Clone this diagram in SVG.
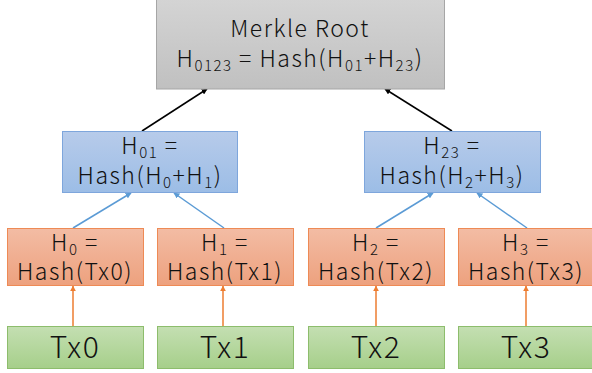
<svg xmlns="http://www.w3.org/2000/svg" width="592" height="373" viewBox="0 0 592 373">
  <defs>
    <linearGradient id="gGray" x1="0" y1="0" x2="0" y2="1">
      <stop offset="0" stop-color="#d4d4d4"/>
      <stop offset="1" stop-color="#c0c0c0"/>
    </linearGradient>
    <linearGradient id="gBlue" x1="0" y1="0" x2="0" y2="1">
      <stop offset="0" stop-color="#b7cbea"/>
      <stop offset="1" stop-color="#9cbde6"/>
    </linearGradient>
    <linearGradient id="gOrange" x1="0" y1="0" x2="0" y2="1">
      <stop offset="0" stop-color="#f3bca4"/>
      <stop offset="1" stop-color="#eda17e"/>
    </linearGradient>
    <linearGradient id="gGreen" x1="0" y1="0" x2="0" y2="1">
      <stop offset="0" stop-color="#c4dfb2"/>
      <stop offset="1" stop-color="#a6cf8a"/>
    </linearGradient>
    <marker id="arBlack" viewBox="0 0 10 10" refX="9" refY="5" markerWidth="6" markerHeight="6" markerUnits="userSpaceOnUse" orient="auto">
      <path d="M0,0 L10,5 L0,10 z" fill="#000"/>
    </marker>
    <marker id="arBlue" viewBox="0 0 10 10" refX="9" refY="5" markerWidth="6" markerHeight="6" markerUnits="userSpaceOnUse" orient="auto">
      <path d="M0,0 L10,5 L0,10 z" fill="#5b9bd5"/>
    </marker>
    <marker id="arOrange" viewBox="0 0 10 10" refX="9" refY="5" markerWidth="6" markerHeight="6" markerUnits="userSpaceOnUse" orient="auto">
      <path d="M0,0 L10,5 L0,10 z" fill="#ed7d31"/>
    </marker>
  </defs>
  <style>
    .root { fill: url(#gGray); stroke: #a6a6a6; stroke-width: 1; }
    .mid { fill: url(#gBlue); stroke: #7ea6dc; stroke-width: 1; }
    .hash { fill: url(#gOrange); stroke: #ee8a55; stroke-width: 1; }
    .tx { fill: url(#gGreen); stroke: #8dbd6c; stroke-width: 1; }
    text { font-family: "Noto Sans CJK JP", "Noto Sans", "DejaVu Sans", sans-serif; font-weight: 300; fill: #111; text-anchor: middle; letter-spacing: 1.5px; }
    .lbl { font-size: 23px; }
    .big { font-size: 30px; }
    .sub { font-size: 15px; }
    .e-black { stroke: #000; stroke-width: 1.5; fill: none; marker-end: url(#arBlack); }
    .e-blue { stroke: #5b9bd5; stroke-width: 1.5; fill: none; marker-end: url(#arBlue); }
    .e-orange { stroke: #ed7d31; stroke-width: 1.5; fill: none; marker-end: url(#arOrange); }
  </style>

  <!-- connectors -->
  <g id="connectors">
    <line class="e-black" x1="142" y1="131" x2="207" y2="89"/>
    <line class="e-black" x1="452" y1="131" x2="385" y2="89"/>
    <line class="e-blue" x1="73" y1="228" x2="131" y2="193"/>
    <line class="e-blue" x1="224" y1="228" x2="174" y2="193"/>
    <line class="e-blue" x1="376" y1="228" x2="433" y2="193"/>
    <line class="e-blue" x1="527" y1="228" x2="477" y2="193"/>
    <line class="e-orange" x1="73" y1="326" x2="73" y2="286"/>
    <line class="e-orange" x1="223" y1="326" x2="223" y2="286"/>
    <line class="e-orange" x1="376" y1="326" x2="376" y2="286"/>
    <line class="e-orange" x1="526" y1="326" x2="526" y2="286"/>
  </g>

  <!-- root -->
  <g id="root">
    <rect class="root" x="156.5" y="-1" width="288" height="90"/>
    <text class="lbl" x="300" y="37">Merkle Root</text>
    <text class="lbl" x="300" y="67">H<tspan class="sub" dy="4">0123</tspan><tspan dy="-4"> = Hash(H</tspan><tspan class="sub" dy="4">01</tspan><tspan dy="-4">+H</tspan><tspan class="sub" dy="4">23</tspan><tspan dy="-4">)</tspan></text>
  </g>

  <!-- intermediate hashes -->
  <g id="h01">
    <rect class="mid" x="62.5" y="131.5" width="175" height="61"/>
    <text class="lbl" x="150" y="154">H<tspan class="sub" dy="4">01</tspan><tspan dy="-4"> =</tspan></text>
    <text class="lbl" x="150" y="184">Hash(H<tspan class="sub" dy="4">0</tspan><tspan dy="-4">+H</tspan><tspan class="sub" dy="4">1</tspan><tspan dy="-4">)</tspan></text>
  </g>
  <g id="h23">
    <rect class="mid" x="364.5" y="131.5" width="176" height="61"/>
    <text class="lbl" x="452" y="154">H<tspan class="sub" dy="4">23</tspan><tspan dy="-4"> =</tspan></text>
    <text class="lbl" x="452" y="184">Hash(H<tspan class="sub" dy="4">2</tspan><tspan dy="-4">+H</tspan><tspan class="sub" dy="4">3</tspan><tspan dy="-4">)</tspan></text>
  </g>

  <!-- leaf hashes -->
  <g id="h0">
    <rect class="hash" x="7.5" y="228.5" width="136" height="57"/>
    <text class="lbl" x="75" y="251">H<tspan class="sub" dy="4">0</tspan><tspan dy="-4"> =</tspan></text>
    <text class="lbl" x="75" y="280">Hash(Tx0)</text>
  </g>
  <g id="h1">
    <rect class="hash" x="157.5" y="228.5" width="136" height="57"/>
    <text class="lbl" x="225" y="251">H<tspan class="sub" dy="4">1</tspan><tspan dy="-4"> =</tspan></text>
    <text class="lbl" x="225" y="280">Hash(Tx1)</text>
  </g>
  <g id="h2">
    <rect class="hash" x="308.5" y="228.5" width="136" height="57"/>
    <text class="lbl" x="376" y="251">H<tspan class="sub" dy="4">2</tspan><tspan dy="-4"> =</tspan></text>
    <text class="lbl" x="376" y="280">Hash(Tx2)</text>
  </g>
  <g id="h3">
    <rect class="hash" x="458.5" y="228.5" width="136" height="57"/>
    <text class="lbl" x="526" y="251">H<tspan class="sub" dy="4">3</tspan><tspan dy="-4"> =</tspan></text>
    <text class="lbl" x="526" y="280">Hash(Tx3)</text>
  </g>

  <!-- transactions -->
  <g id="tx0">
    <rect class="tx" x="7.5" y="326.5" width="136" height="42"/>
    <text class="big" x="75" y="358">Tx0</text>
  </g>
  <g id="tx1">
    <rect class="tx" x="157.5" y="326.5" width="136" height="42"/>
    <text class="big" x="225" y="358">Tx1</text>
  </g>
  <g id="tx2">
    <rect class="tx" x="308.5" y="326.5" width="136" height="42"/>
    <text class="big" x="376" y="358">Tx2</text>
  </g>
  <g id="tx3">
    <rect class="tx" x="458.5" y="326.5" width="136" height="42"/>
    <text class="big" x="526" y="358">Tx3</text>
  </g>
</svg>
